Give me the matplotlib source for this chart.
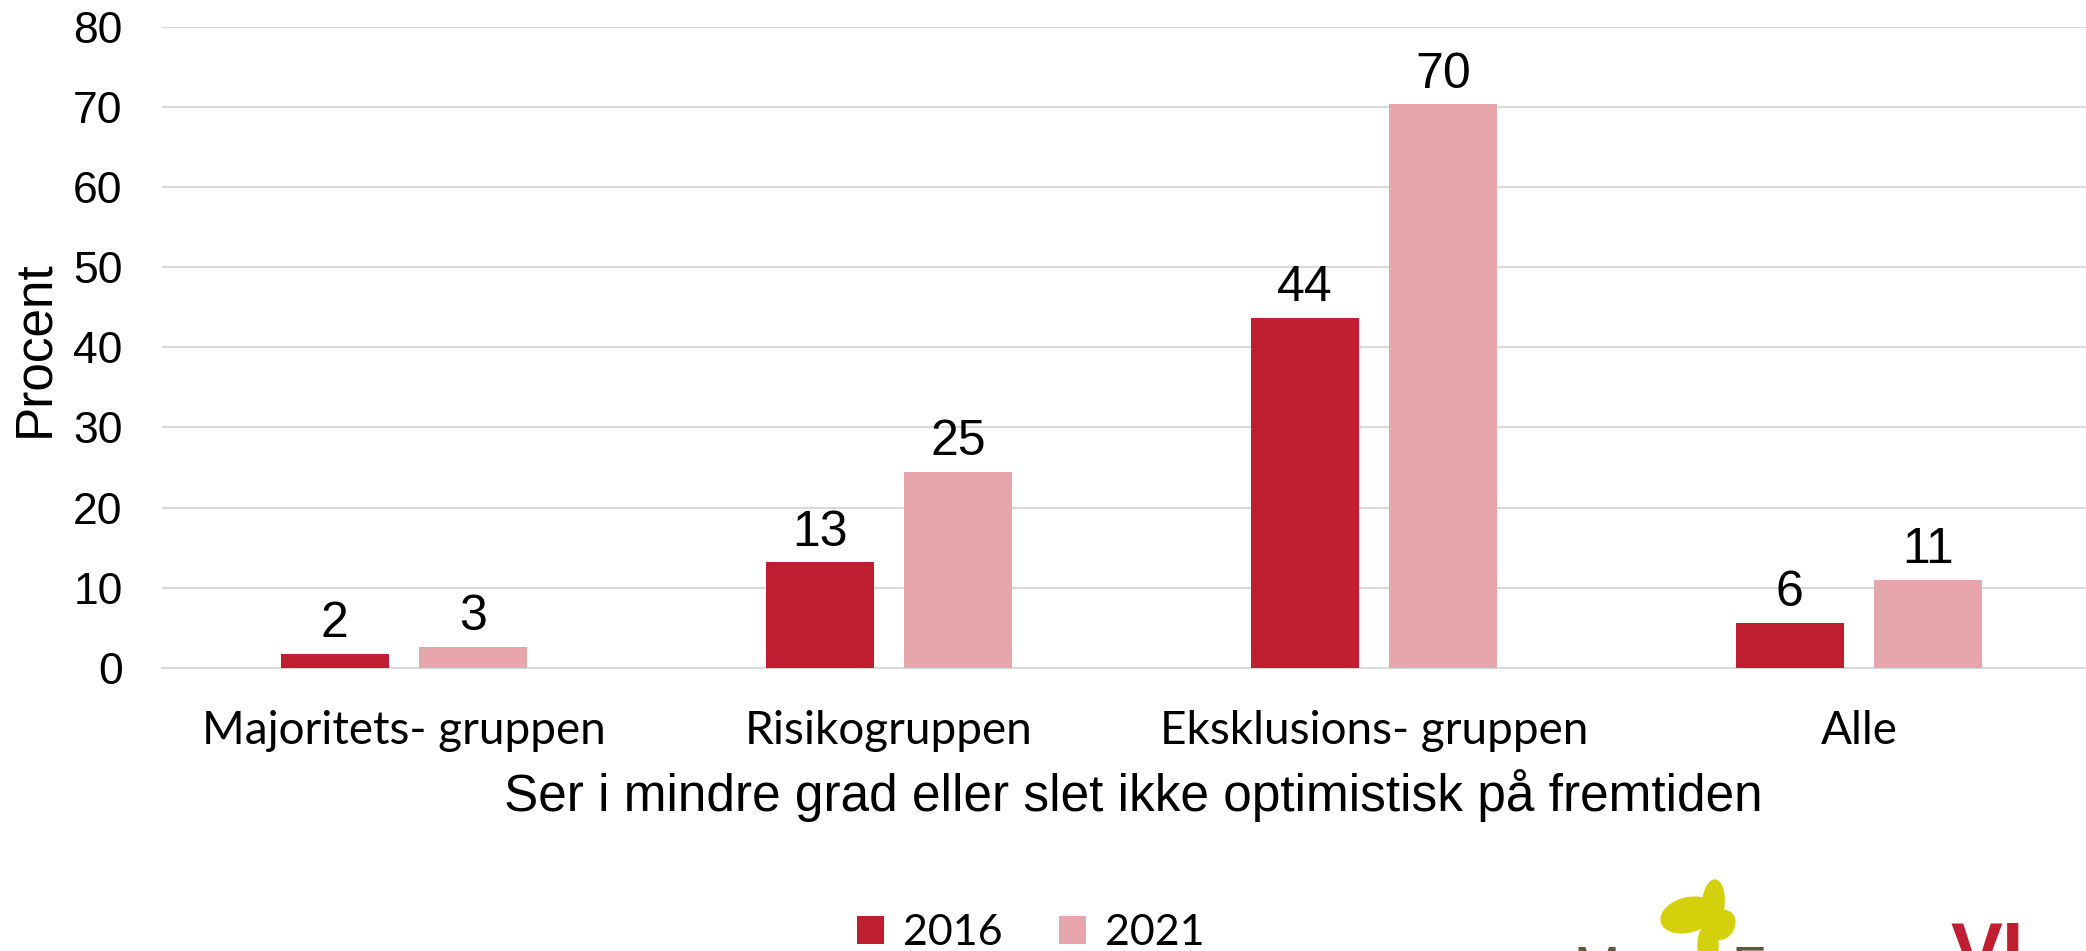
import numpy as np
import matplotlib
matplotlib.use("Agg")
import matplotlib.pyplot as plt
from matplotlib.patches import Ellipse

categories = ["Majoritets- gruppen", "Risikogruppen", "Eksklusions- gruppen", "Alle"]
series_names = ["2016", "2021"]
values_2016 = [1.8, 13.2, 43.7, 5.6]
values_2021 = [2.6, 24.5, 70.3, 11.0]
labels_2016 = ["2", "13", "44", "6"]
labels_2021 = ["3", "25", "70", "11"]
yticks = [0, 10, 20, 30, 40, 50, 60, 70, 80]

RED = "#C01F31"
PINK = "#E7A6AC"
GRID = "#D9D9D9"

W, H = 2086, 951
fig = plt.figure(figsize=(W / 100, H / 100), dpi=100)

# axes extends past the right edge, the source picture is cropped there
ax = fig.add_axes([161.5 / W, 1 - 668 / H, 1940 / W, (668 - 26.6) / H])

x = np.arange(len(categories))
bw = 0.2227
off = 0.143
b1 = ax.bar(x - off, values_2016, bw, color=RED, label=series_names[0], zorder=3)
b2 = ax.bar(x + off, values_2021, bw, color=PINK, label=series_names[1], zorder=3)

for bars, labs in [(b1, labels_2016), (b2, labels_2021)]:
    for r, lab in zip(bars, labs):
        ax.annotate(lab, (r.get_x() + r.get_width() / 2, r.get_height()),
                    xytext=(0, 12), textcoords="offset points", ha="center",
                    va="baseline", fontsize=36, family="Liberation Sans")

ax.set_xlim(-0.5, len(categories) - 0.5)
ax.set_ylim(0, 80)
ax.set_yticks(yticks)
ax.set_yticklabels([str(t) for t in yticks], family="Liberation Sans", fontsize=32)
ax.set_xticks(x)
ax.set_xticklabels(categories, family="Lato", fontsize=33)
ax.tick_params(axis="y", length=0, pad=28)
ax.tick_params(axis="x", length=0, pad=30)
ax.grid(axis="y", color=GRID, linewidth=1.5, zorder=0)
for s in ["top", "right", "left"]:
    ax.spines[s].set_visible(False)
ax.spines["bottom"].set_color(GRID)
ax.spines["bottom"].set_linewidth(1.5)

fig.text(35 / W, 1 - 349 / H, "Procent", rotation=90, ha="center", va="center",
         fontsize=37, family="Liberation Sans")
fig.text(1133 / W, 1 - 796 / H, "Ser i mindre grad eller slet ikke optimistisk på fremtiden",
         ha="center", va="center", fontsize=37, family="Liberation Sans")

leg = fig.legend(handles=[b1, b2], loc="center", bbox_to_anchor=(1031 / W, 1 - 933 / H),
                 ncol=2, frameon=False, prop={"family": "Lato", "size": 31},
                 handlelength=0.62, handleheight=0.62, handletextpad=0.45, columnspacing=1.3)

# partial logo at the cropped bottom right
logo_ax = fig.add_axes([0, 0, 1, 1], zorder=-1)
logo_ax.set_xlim(0, W)
logo_ax.set_ylim(H, 0)
logo_ax.axis("off")
for cx, cy, ew, eh, ang in [(1688, 915, 55, 34, -15), (1713, 905, 22, 50, 5),
                            (1722, 925, 24, 30, 30), (1708, 945, 20, 40, 0)]:
    logo_ax.add_patch(Ellipse((cx, cy), ew, eh, angle=ang, color="#D4D10C"))
logo_ax.text(1573, 945, "M", color="#5B5A3A", fontsize=40, family="Liberation Sans",
             va="top", ha="left")
logo_ax.text(1732, 945, "F", color="#5B5A3A", fontsize=40, family="Liberation Sans",
             va="top", ha="left")
logo_ax.text(1950, 920, "VI", color=RED, fontsize=56, fontweight="bold",
             family="Liberation Sans", va="top", ha="left")

fig.savefig("out.png", dpi=100)
